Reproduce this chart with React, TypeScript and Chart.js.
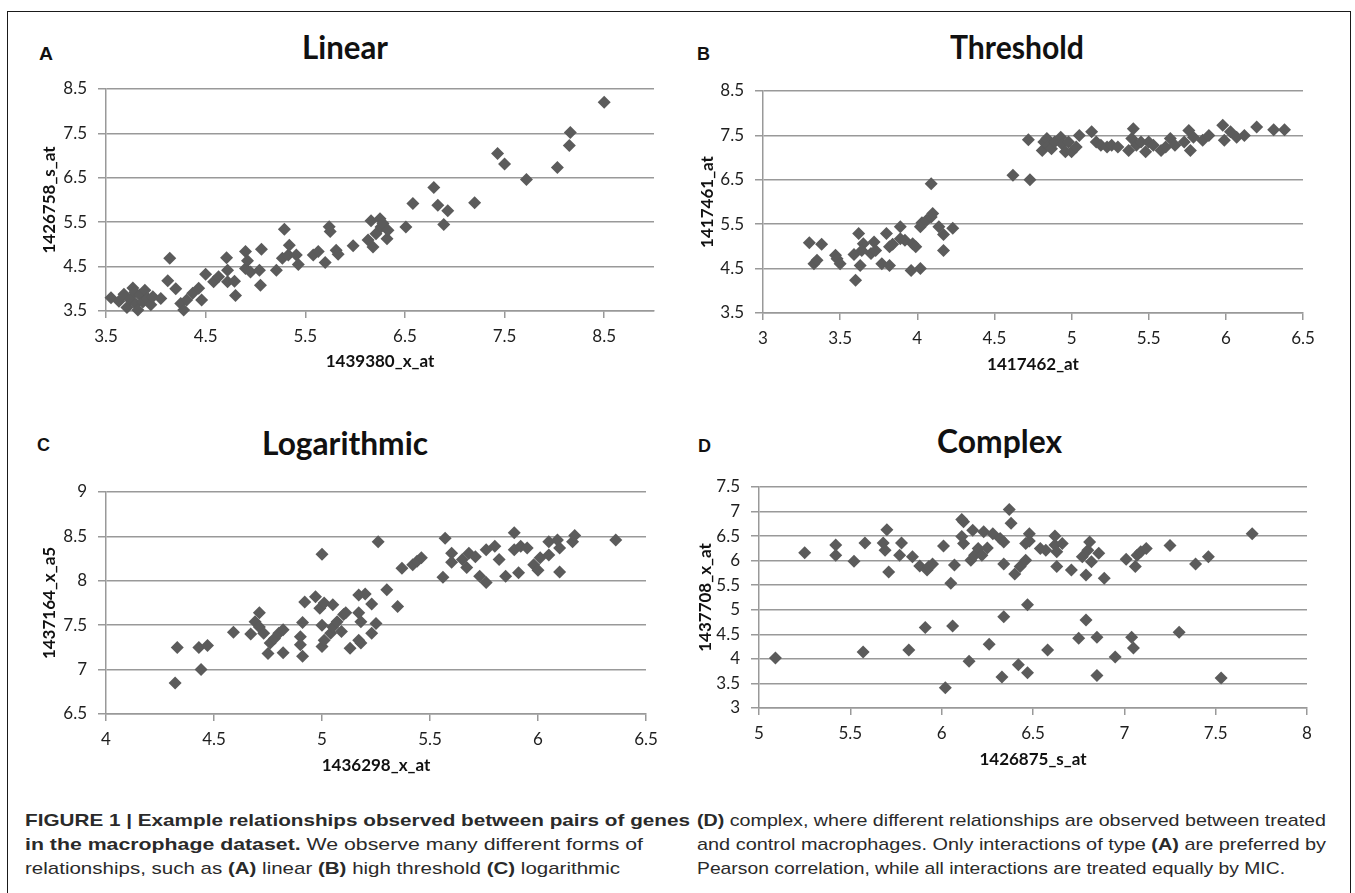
import React, { useEffect, useLayoutEffect, useRef } from 'react';
import { Chart, registerables } from 'chart.js';

Chart.register(...registerables);

// ---------- DATA ----------
// Panel A: Linear
const linearX = [3.55, 3.63, 3.68, 3.71, 3.74, 3.77, 3.79, 3.8, 3.82, 3.84, 3.87, 3.89, 3.92, 3.95, 3.97, 4.05, 4.12, 4.14, 4.2, 4.25, 4.28, 4.31, 4.37, 4.43, 4.46, 4.5, 4.58, 4.63, 4.71, 4.72, 4.72, 4.79, 4.8, 4.9, 4.9, 4.92, 4.95, 5.04, 5.05, 5.06, 5.21, 5.27, 5.29, 5.33, 5.34, 5.41, 5.43, 5.58, 5.63, 5.7, 5.74, 5.75, 5.81, 5.83, 5.98, 6.13, 6.16, 6.18, 6.21, 6.25, 6.26, 6.28, 6.32, 6.33, 6.51, 6.58, 6.79, 6.83, 6.89, 6.93, 7.2, 7.43, 7.5, 7.72, 8.03, 8.15, 8.16, 8.5];
const linearY = [3.8, 3.72, 3.88, 3.58, 3.76, 4.02, 3.92, 3.66, 3.52, 3.86, 3.7, 3.97, 3.78, 3.64, 3.82, 3.78, 4.18, 4.69, 4.0, 3.67, 3.52, 3.75, 3.9, 4.01, 3.75, 4.33, 4.16, 4.27, 4.7, 4.42, 4.16, 4.17, 3.85, 4.84, 4.46, 4.63, 4.38, 4.42, 4.08, 4.89, 4.42, 4.69, 5.34, 4.76, 4.98, 4.76, 4.55, 4.76, 4.84, 4.59, 5.4, 5.29, 4.87, 4.78, 4.97, 5.1, 5.53, 4.94, 5.24, 5.58, 5.39, 5.47, 5.13, 5.32, 5.39, 5.92, 6.28, 5.88, 5.45, 5.76, 5.94, 7.05, 6.81, 6.46, 6.73, 7.23, 7.52, 8.2];
const linearXTicks = [3.5, 4.5, 5.5, 6.5, 7.5, 8.5];
const linearYTicks = [3.5, 4.5, 5.5, 6.5, 7.5, 8.5];

// Panel B: Threshold
const thresholdX = [3.3, 3.33, 3.35, 3.38, 3.47, 3.48, 3.5, 3.59, 3.6, 3.62, 3.63, 3.65, 3.64, 3.7, 3.72, 3.73, 3.77, 3.8, 3.82, 3.82, 3.84, 3.89, 3.89, 3.92, 3.96, 3.97, 3.99, 4.02, 4.02, 4.03, 4.06, 4.09, 4.1, 4.09, 4.14, 4.17, 4.17, 4.23, 4.62, 4.72, 4.73, 4.81, 4.82, 4.84, 4.85, 4.87, 4.89, 4.93, 4.94, 4.96, 4.98, 5.0, 5.03, 5.05, 5.13, 5.16, 5.19, 5.23, 5.26, 5.3, 5.37, 5.39, 5.4, 5.42, 5.45, 5.48, 5.5, 5.53, 5.58, 5.61, 5.64, 5.67, 5.73, 5.76, 5.77, 5.79, 5.85, 5.89, 5.98, 5.99, 6.03, 6.07, 6.12, 6.2, 6.31, 6.38];
const thresholdY = [5.08, 4.61, 4.69, 5.05, 4.8, 4.72, 4.61, 4.82, 4.24, 5.29, 4.57, 5.06, 4.91, 4.84, 5.1, 4.91, 4.61, 5.29, 4.99, 4.57, 5.05, 5.44, 5.17, 5.14, 4.46, 5.06, 4.99, 4.5, 5.44, 5.53, 5.59, 5.66, 5.74, 6.41, 5.44, 5.27, 4.91, 5.41, 6.6, 7.4, 6.5, 7.16, 7.35, 7.43, 7.28, 7.2, 7.35, 7.46, 7.3, 7.13, 7.35, 7.13, 7.24, 7.5, 7.58, 7.35, 7.28, 7.24, 7.28, 7.24, 7.16, 7.43, 7.65, 7.28, 7.35, 7.13, 7.35, 7.28, 7.16, 7.24, 7.43, 7.28, 7.35, 7.61, 7.16, 7.46, 7.39, 7.5, 7.73, 7.39, 7.58, 7.46, 7.5, 7.69, 7.63, 7.63];
const thresholdXTicks = [3, 3.5, 4, 4.5, 5, 5.5, 6, 6.5];
const thresholdYTicks = [3.5, 4.5, 5.5, 6.5, 7.5, 8.5];

// Panel C: Logarithmic
const logX = [4.32, 4.33, 4.43, 4.44, 4.47, 4.59, 4.67, 4.69, 4.71, 4.71, 4.73, 4.75, 4.76, 4.78, 4.8, 4.82, 4.82, 4.9, 4.9, 4.91, 4.91, 4.92, 4.97, 5.0, 4.99, 5.0, 5.01, 5.0, 5.01, 5.04, 5.05, 5.05, 5.07, 5.09, 5.1, 5.13, 5.17, 5.17, 5.17, 5.11, 5.18, 5.18, 5.2, 5.23, 5.23, 5.25, 5.26, 5.3, 5.35, 5.37, 5.42, 5.44, 5.46, 5.56, 5.57, 5.6, 5.6, 5.65, 5.67, 5.68, 5.71, 5.73, 5.76, 5.76, 5.8, 5.82, 5.85, 5.89, 5.89, 5.91, 5.92, 5.95, 5.98, 6.0, 6.01, 6.05, 6.05, 6.09, 6.1, 6.1, 6.16, 6.17, 6.36];
const logY = [6.85, 7.25, 7.25, 7.0, 7.27, 7.42, 7.4, 7.54, 7.64, 7.48, 7.41, 7.18, 7.3, 7.35, 7.41, 7.45, 7.19, 7.37, 7.28, 7.15, 7.53, 7.76, 7.82, 8.3, 7.69, 7.26, 7.33, 7.5, 7.75, 7.41, 7.73, 7.48, 7.54, 7.43, 7.62, 7.24, 7.64, 7.33, 7.84, 7.64, 7.54, 7.3, 7.85, 7.41, 7.74, 7.52, 8.44, 7.9, 7.71, 8.14, 8.18, 8.22, 8.26, 8.04, 8.48, 8.31, 8.21, 8.24, 8.15, 8.31, 8.27, 8.05, 7.98, 8.35, 8.39, 8.24, 8.05, 8.54, 8.35, 8.09, 8.39, 8.37, 8.18, 8.12, 8.26, 8.44, 8.29, 8.46, 8.1, 8.37, 8.44, 8.51, 8.46];
const logXTicks = [4, 4.5, 5, 5.5, 6, 6.5];
const logYTicks = [6.5, 7, 7.5, 8, 8.5, 9];

// Panel D: Complex
const complexX = [5.09, 5.25, 5.42, 5.42, 5.52, 5.57, 5.58, 5.68, 5.69, 5.7, 5.71, 5.77, 5.78, 5.82, 5.84, 5.88, 5.91, 5.92, 5.93, 5.95, 6.01, 6.02, 6.05, 6.06, 6.07, 6.11, 6.12, 6.11, 6.12, 6.15, 6.16, 6.17, 6.18, 6.2, 6.23, 6.22, 6.25, 6.26, 6.28, 6.32, 6.33, 6.34, 6.34, 6.34, 6.37, 6.38, 6.4, 6.42, 6.43, 6.46, 6.46, 6.47, 6.47, 6.48, 6.48, 6.54, 6.57, 6.58, 6.62, 6.62, 6.63, 6.63, 6.66, 6.71, 6.75, 6.77, 6.79, 6.79, 6.8, 6.81, 6.82, 6.85, 6.85, 6.86, 6.89, 6.95, 7.01, 7.04, 7.05, 7.06, 7.07, 7.09, 7.12, 7.25, 7.3, 7.39, 7.46, 7.53, 7.7];
const complexY = [4.02, 6.16, 6.32, 6.11, 5.99, 4.14, 6.36, 6.36, 6.21, 6.63, 5.77, 6.11, 6.36, 4.18, 6.08, 5.89, 4.64, 5.81, 5.88, 5.93, 6.3, 3.41, 5.54, 4.67, 5.91, 6.84, 6.79, 6.49, 6.35, 3.95, 6.01, 6.62, 6.11, 6.25, 6.59, 6.11, 6.26, 4.3, 6.55, 6.45, 3.63, 4.86, 6.38, 5.93, 7.04, 6.76, 5.73, 3.88, 5.88, 6.01, 6.35, 5.1, 3.72, 6.55, 6.4, 6.25, 6.21, 4.18, 6.32, 6.5, 6.18, 5.88, 6.35, 5.81, 4.42, 6.08, 5.71, 4.79, 6.21, 6.38, 5.98, 4.44, 3.66, 6.15, 5.64, 4.04, 6.03, 4.44, 4.22, 5.88, 6.11, 6.18, 6.25, 6.31, 4.54, 5.93, 6.08, 3.61, 6.55];
const complexXTicks = [5, 5.5, 6, 6.5, 7, 7.5, 8];
const complexYTicks = [3, 3.5, 4, 4.5, 5, 5.5, 6, 6.5, 7, 7.5];

// ---------- STYLE ----------
const MARKER = '#5b5b5b';
const GRID = '#999999';
const TICK_TEXT = '#1e1e1e';
const TICK_FONT = 'Lato, "Open Sans", sans-serif';
const TITLE_FONT = 'Lato, "Open Sans", sans-serif';
const CAPTION_FONT = '"Liberation Sans Narrow", "Liberation Sans", Arial, sans-serif';

type Rect = { left: number; top: number; right: number; bottom: number };

type PanelProps = {
  box: Rect;
  plot: Rect;
  xs: number[];
  ys: number[];
  xMin: number;
  xMax: number;
  yMin: number;
  yMax: number;
  xTicks: number[];
  yTicks: number[];
  xTitle: string;
  yTitle: string;
};

function ScatterPanel(p: PanelProps) {
  const ref = useRef<HTMLCanvasElement>(null);
  const w = p.box.right - p.box.left;
  const h = p.box.bottom - p.box.top;
  useEffect(() => {
    const canvas = ref.current;
    if (!canvas) return;
    const yAxisW = p.plot.left - p.box.left;
    const xAxisH = p.box.bottom - p.plot.bottom;
    const tickFont = { family: TICK_FONT, size: 17, lineHeight: 1.2 };
    const titleFont = { family: TITLE_FONT, size: 17, weight: 'bold' as const, lineHeight: 1.2 };
    const chart = new Chart(canvas, {
      type: 'scatter',
      data: {
        datasets: [
          {
            data: p.xs.map((x, i) => ({ x, y: p.ys[i] })),
            pointStyle: 'rectRot',
            pointRadius: 6.5,
            pointHoverRadius: 6.5,
            backgroundColor: MARKER,
            borderWidth: 0,
            clip: false as any,
          },
        ],
      },
      options: {
        animation: false,
        responsive: false,
        events: [],
        layout: {
          autoPadding: false,
          padding: {
            top: p.plot.top - p.box.top,
            right: p.box.right - p.plot.right,
            left: 0,
            bottom: 0,
          },
        },
        plugins: {
          legend: { display: false },
          tooltip: { enabled: false },
          title: { display: false },
        },
        scales: {
          x: {
            type: 'linear',
            position: 'bottom',
            min: p.xMin,
            max: p.xMax,
            afterBuildTicks: (s: any) => {
              s.ticks = p.xTicks.map((v) => ({ value: v }));
            },
            afterFit: (s: any) => {
              s.height = xAxisH;
            },
            grid: {
              drawOnChartArea: false,
              drawTicks: true,
              tickLength: 7,
              color: GRID,
              lineWidth: 1.5,
            },
            border: { display: true, color: GRID, width: 1.5 },
            ticks: {
              callback: (v: any) => String(v),
              padding: 8,
              font: tickFont,
              color: TICK_TEXT,
              maxRotation: 0,
              autoSkip: false,
            },
            title: {
              display: true,
              text: p.xTitle,
              font: titleFont,
              color: '#111',
              padding: 0,
            },
          },
          y: {
            type: 'linear',
            position: 'left',
            min: p.yMin,
            max: p.yMax,
            afterBuildTicks: (s: any) => {
              s.ticks = p.yTicks.map((v) => ({ value: v }));
            },
            afterFit: (s: any) => {
              s.width = yAxisW;
            },
            grid: {
              drawOnChartArea: true,
              drawTicks: true,
              tickLength: 8,
              color: GRID,
              lineWidth: 1.5,
            },
            border: { display: true, color: GRID, width: 1.5 },
            ticks: {
              callback: (v: any) => String(v),
              padding: 11,
              font: tickFont,
              color: TICK_TEXT,
              autoSkip: false,
            },
            title: {
              display: true,
              text: p.yTitle,
              font: titleFont,
              color: '#111',
              padding: 0,
            },
          },
        },
      } as any,
    });
    return () => chart.destroy();
  }, []);
  return (
    <canvas
      ref={ref}
      width={w}
      height={h}
      style={{ position: 'absolute', left: p.box.left, top: p.box.top, width: w, height: h }}
    />
  );
}

type Seg = [string, boolean];

function FitText(props: {
  x: number;
  baseline: number;
  width: number;
  size: number;
  family: string;
  k: number;
  bold?: boolean;
  color?: string;
  segs: Seg[];
}) {
  const ref = useRef<HTMLDivElement>(null);
  useLayoutEffect(() => {
    const el = ref.current;
    if (!el) return;
    el.style.transform = 'none';
    const w = el.getBoundingClientRect().width;
    if (w > 0) el.style.transform = `scaleX(${props.width / w})`;
  }, [props.width]);
  return (
    <div
      ref={ref}
      style={{
        position: 'absolute',
        left: props.x,
        top: props.baseline - props.k * props.size,
        fontSize: props.size,
        lineHeight: `${props.size}px`,
        fontFamily: props.family,
        fontWeight: props.bold ? 700 : 400,
        color: props.color || '#222',
        whiteSpace: 'nowrap',
        transformOrigin: '0 0',
        display: 'inline-block',
      }}
    >
      {props.segs.map((s, i) => (
        <span key={i} style={{ fontWeight: s[1] ? 700 : 400 }}>
          {s[0]}
        </span>
      ))}
    </div>
  );
}

const LATO_K = 0.887;
const LIB_K = 0.8465;

const captionLeft: Seg[][] = [
  [['FIGURE 1 | Example relationships observed between pairs of genes', true]],
  [['in the macrophage dataset.', true], [' We observe many different forms of', false]],
  [['relationships, such as ', false], ['(A)', true], [' linear ', false], ['(B)', true], [' high threshold ', false], ['(C)', true], [' logarithmic', false]],
];
const captionRight: Seg[][] = [
  [['(D)', true], [' complex, where different relationships are observed between treated', false]],
  [['and control macrophages. Only interactions of type ', false], ['(A)', true], [' are preferred by', false]],
  [['Pearson correlation, while all interactions are treated equally by MIC.', false]],
];
const captionLeftWidths = [665, 618, 595];
const captionRightWidths = [629, 629, 588];
const captionBaselines = [826, 850, 874];

export default function App() {
  return (
    <div
      style={{
        position: 'absolute',
        left: 0,
        top: 0,
        width: 1355,
        height: 893,
        overflow: 'hidden',
        background: '#ffffff',
      }}
    >
      <div
        style={{
          position: 'absolute',
          left: 7,
          top: 11,
          width: 1344,
          height: 920,
          border: '1.5px solid #1a1a1a',
          boxSizing: 'border-box',
        }}
      />

      {/* Panel letters */}
      <FitText x={39} baseline={60} width={14} size={18} family={CAPTION_FONT} k={LIB_K} bold color="#111" segs={[['A', true]]} />
      <FitText x={697} baseline={60} width={13} size={18} family={CAPTION_FONT} k={LIB_K} bold color="#111" segs={[['B', true]]} />
      <FitText x={37} baseline={451} width={13} size={18} family={CAPTION_FONT} k={LIB_K} bold color="#111" segs={[['C', true]]} />
      <FitText x={698} baseline={452} width={13} size={18} family={CAPTION_FONT} k={LIB_K} bold color="#111" segs={[['D', true]]} />

      {/* Panel titles */}
      <FitText x={302} baseline={59.5} width={86} size={33} family={TITLE_FONT} k={LATO_K} bold color="#111" segs={[['Linear', true]]} />
      <FitText x={950} baseline={59.5} width={134} size={33} family={TITLE_FONT} k={LATO_K} bold color="#111" segs={[['Threshold', true]]} />
      <FitText x={262} baseline={455} width={166} size={33} family={TITLE_FONT} k={LATO_K} bold color="#111" segs={[['Logarithmic', true]]} />
      <FitText x={937} baseline={453} width={125} size={33} family={TITLE_FONT} k={LATO_K} bold color="#111" segs={[['Complex', true]]} />

      <ScatterPanel
        box={{ left: 39, top: 65, right: 678, bottom: 372 }}
        plot={{ left: 106, top: 89, right: 654, bottom: 311 }}
        xs={linearX}
        ys={linearY}
        xMin={3.5}
        xMax={9}
        yMin={3.5}
        yMax={8.5}
        xTicks={linearXTicks}
        yTicks={linearYTicks}
        xTitle="1439380_x_at"
        yTitle="1426758_s_at"
      />
      <ScatterPanel
        box={{ left: 697, top: 67, right: 1327, bottom: 375 }}
        plot={{ left: 763, top: 91, right: 1303, bottom: 313 }}
        xs={thresholdX}
        ys={thresholdY}
        xMin={3}
        xMax={6.5}
        yMin={3.5}
        yMax={8.5}
        xTicks={thresholdXTicks}
        yTicks={thresholdYTicks}
        xTitle="1417462_at"
        yTitle="1417461_at"
      />
      <ScatterPanel
        box={{ left: 39, top: 468, right: 670, bottom: 776 }}
        plot={{ left: 106, top: 492, right: 646, bottom: 714 }}
        xs={logX}
        ys={logY}
        xMin={4}
        xMax={6.5}
        yMin={6.5}
        yMax={9}
        xTicks={logXTicks}
        yTicks={logYTicks}
        xTitle="1436298_x_at"
        yTitle="1437164_x_a5"
      />
      <ScatterPanel
        box={{ left: 695, top: 463, right: 1331, bottom: 770 }}
        plot={{ left: 759, top: 487, right: 1307, bottom: 708 }}
        xs={complexX}
        ys={complexY}
        xMin={5}
        xMax={8}
        yMin={3}
        yMax={7.5}
        xTicks={complexXTicks}
        yTicks={complexYTicks}
        xTitle="1426875_s_at"
        yTitle="1437708_x_at"
      />

      {/* Caption */}
      {captionLeft.map((segs, i) => (
        <FitText
          key={'l' + i}
          x={25}
          baseline={captionBaselines[i]}
          width={captionLeftWidths[i]}
          size={17}
          family={CAPTION_FONT}
          k={LIB_K}
          color="#2a2a2a"
          segs={segs}
        />
      ))}
      {captionRight.map((segs, i) => (
        <FitText
          key={'r' + i}
          x={697}
          baseline={captionBaselines[i]}
          width={captionRightWidths[i]}
          size={17}
          family={CAPTION_FONT}
          k={LIB_K}
          color="#2a2a2a"
          segs={segs}
        />
      ))}
    </div>
  );
}
